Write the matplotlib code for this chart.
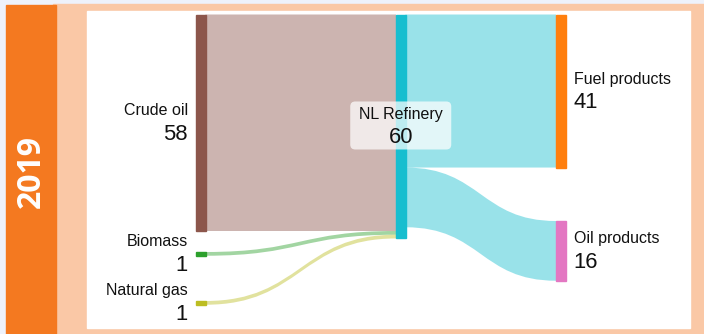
import matplotlib
matplotlib.use("Agg")
import matplotlib.pyplot as plt
from matplotlib.patches import Rectangle, PathPatch, FancyBboxPatch
from matplotlib.path import Path

plt.rcParams['font.family'] = ['Liberation Sans', 'DejaVu Sans']

# data
year = "2019"
node_names = ["Crude oil", "Biomass", "Natural gas", "NL Refinery", "Fuel products", "Oil products"]
node_colors = ["#8c564b", "#2ca02c", "#bcbd22", "#17becf", "#ff7f0e", "#e377c2"]
link_sources = [0, 1, 2, 3, 3]
link_targets = [3, 3, 3, 4, 5]
link_values = [58, 1, 1, 41, 16]

# layout (pixels)
node_x = [196, 196, 196, 396, 556, 556]
node_top = [14.5, 252, 301, 14.5, 14.5, 221]
node_w = 9.5
scale = 216.5 / 58  # px per unit

fig = plt.figure(figsize=(7.04, 3.34), dpi=100)
ax = fig.add_axes([0, 0, 1, 1])
ax.set_xlim(0, 704)
ax.set_ylim(334, 0)
ax.axis("off")

# frame
ax.add_patch(Rectangle((0, 0), 704, 334, color="#eef2fb", zorder=0))
ax.add_patch(Rectangle((53, 4), 651, 330, color="#fac8a6", zorder=0))
ax.add_patch(Rectangle((6, 5), 50, 329, color="#f47920", zorder=0))
ax.add_patch(Rectangle((87, 11), 603, 317, color="white", zorder=0))
ax.text(31, 171, year, rotation=90, ha="center", va="center", color="white",
        fontsize=23, fontweight="bold", family=["Open Sans", "DejaVu Sans"])

# node values = max(in, out)
n = len(node_names)
inflow = [0] * n
outflow = [0] * n
for s, t, v in zip(link_sources, link_targets, link_values):
    outflow[s] += v
    inflow[t] += v
node_vals = [max(a, b) for a, b in zip(inflow, outflow)]

# links
out_off = [0.0] * n
in_off = [0.0] * n
for s, t, v in zip(link_sources, link_targets, link_values):
    x0 = node_x[s] + node_w
    x1 = node_x[t]
    y0a = node_top[s] + out_off[s] * scale
    y0b = y0a + v * scale
    y1a = node_top[t] + in_off[t] * scale
    y1b = y1a + v * scale
    out_off[s] += v
    in_off[t] += v
    xm = (x0 + x1) / 2
    verts = [(x0, y0a), (xm, y0a), (xm, y1a), (x1, y1a),
             (x1, y1b), (xm, y1b), (xm, y0b), (x0, y0b), (x0, y0a)]
    codes = [Path.MOVETO, Path.CURVE4, Path.CURVE4, Path.CURVE4,
             Path.LINETO, Path.CURVE4, Path.CURVE4, Path.CURVE4, Path.CLOSEPOLY]
    ax.add_patch(PathPatch(Path(verts, codes), fc=node_colors[s], ec="none",
                           alpha=0.44, zorder=2))

# nodes + labels
for i in range(n):
    h = node_vals[i] * scale
    ax.add_patch(Rectangle((node_x[i], node_top[i]), node_w, h,
                           color=node_colors[i], zorder=3))
    cy = node_top[i] + h / 2
    if i < 3:
        lx, ha = node_x[i] - 8, "right"
    elif i > 3:
        lx, ha = node_x[i] + node_w + 8, "left"
    else:
        lx, ha = node_x[i] + node_w / 2, "center"
        ax.add_patch(FancyBboxPatch((lx - 50.5, cy - 25), 101, 48,
                                    boxstyle="round,pad=0,rounding_size=5",
                                    fc="white", ec="none", alpha=0.72, zorder=4))
    ax.text(lx, cy - 12, node_names[i], ha=ha, va="center", fontsize=11.5,
            color="#111111", zorder=5)
    ax.text(lx, cy + 11.5, str(node_vals[i]), ha=ha, va="center", fontsize=15.8,
            color="#111111", zorder=5)

fig.savefig("out.png", dpi=100)
